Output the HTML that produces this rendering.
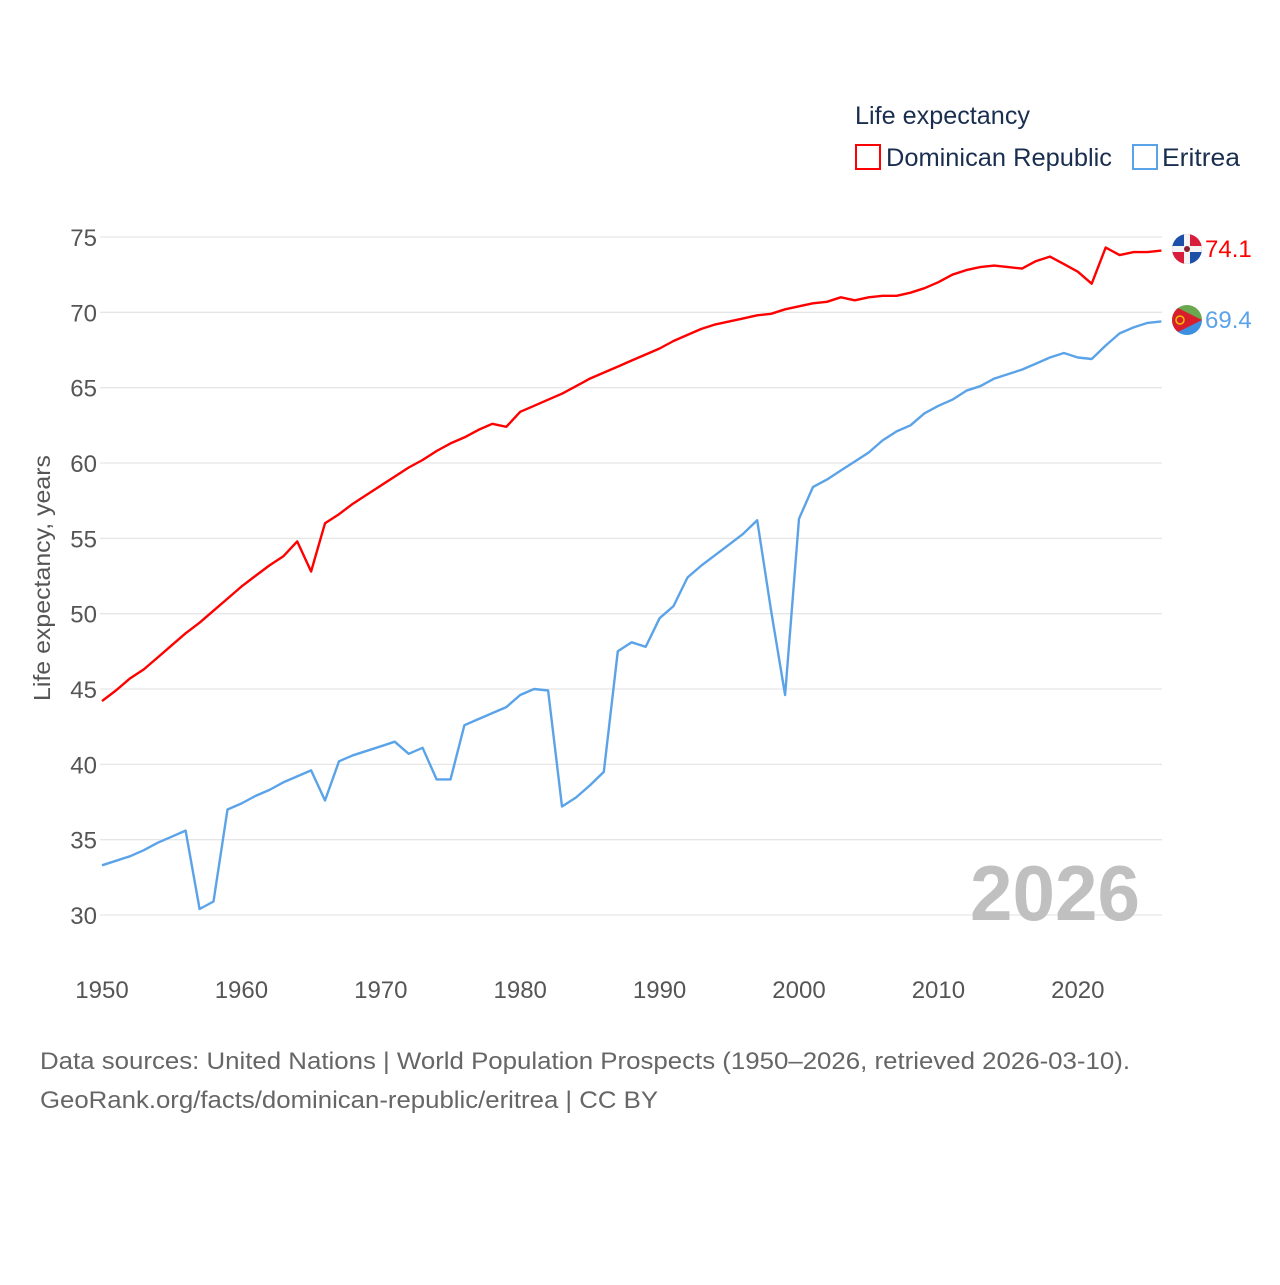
<!DOCTYPE html>
<html><head><meta charset="utf-8"><style>
body{margin:0;background:#fff;}
svg text{font-family:"Liberation Sans",sans-serif;}
</style></head><body>
<svg id="chart" width="1280" height="1280" viewBox="0 0 1280 1280" xmlns="http://www.w3.org/2000/svg">
<rect width="1280" height="1280" fill="#fff"/>
<g id="grid"></g>
<g id="yticks"></g>
<g id="xticks"></g>
<text x="0" y="0" transform="translate(50,578) rotate(-90)" text-anchor="middle" font-size="23" fill="#555" textLength="246" lengthAdjust="spacingAndGlyphs">Life expectancy, years</text>
<text x="1140" y="920" text-anchor="end" font-size="78" font-weight="bold" fill="#c0c0c0" textLength="170" lengthAdjust="spacingAndGlyphs">2026</text>
<g id="series"></g>
<g>
<text x="855" y="124" font-size="25" fill="#1a2e50" textLength="175" lengthAdjust="spacingAndGlyphs">Life expectancy</text>
<g>
<rect x="856" y="145" width="24" height="24" fill="none" stroke="#ff0000" stroke-width="2"/>
<text x="886" y="166" font-size="25" fill="#1a2e50" textLength="226" lengthAdjust="spacingAndGlyphs">Dominican Republic</text>
</g>
<g>
<rect x="1133" y="145" width="24" height="24" fill="none" stroke="#5ba3e8" stroke-width="2"/>
<text x="1162" y="166" font-size="25" fill="#1a2e50" textLength="78" lengthAdjust="spacingAndGlyphs">Eritrea</text>
</g>
</g>
<g>
<clipPath id="c1"><circle cx="1187" cy="249" r="15"/></clipPath>
<g clip-path="url(#c1)">
<rect x="1172" y="234" width="15" height="15" fill="#1d4fa8"/><rect x="1187" y="234" width="15" height="15" fill="#d81e3c"/>
<rect x="1172" y="249" width="15" height="15" fill="#d81e3c"/><rect x="1187" y="249" width="15" height="15" fill="#1d4fa8"/>
<rect x="1172" y="246" width="30" height="6" fill="#f4f4f4"/><rect x="1184" y="234" width="6" height="30" fill="#f4f4f4"/>
<circle cx="1187" cy="249" r="3" fill="#8a2030"/></g></g>
<text x="1205" y="257" font-size="24" fill="#ff0000">74.1</text>
<g>
<clipPath id="c2"><circle cx="1187" cy="320" r="15"/></clipPath>
<g clip-path="url(#c2)">
<rect x="1172" y="305" width="30" height="15" fill="#6aa84f"/><rect x="1172" y="320" width="30" height="15" fill="#3d8fe0"/>
<polygon points="1172,305 1202,320 1172,335" fill="#d81e2c"/>
<circle cx="1180" cy="320" r="4" fill="none" stroke="#f5c000" stroke-width="1.5"/></g></g>
<text x="1205" y="328" font-size="24" fill="#5ba3e8">69.4</text>
<text x="40" y="1069" font-size="24" fill="#666" textLength="1090" lengthAdjust="spacingAndGlyphs">Data sources: United Nations | World Population Prospects (1950–2026, retrieved 2026-03-10).</text>
<text x="40" y="1108" font-size="24" fill="#666" textLength="618" lengthAdjust="spacingAndGlyphs">GeoRank.org/facts/dominican-republic/eritrea | CC BY</text>
</svg>
<script>
const years = [];
for (let y = 1950; y <= 2026; y++) years.push(y);
const domRep = [44.2,44.9,45.7,46.3,47.1,47.9,48.7,49.4,50.2,51.0,51.8,52.5,53.2,53.8,54.8,52.8,56.0,56.6,57.3,57.9,58.5,59.1,59.7,60.2,60.8,61.3,61.7,62.2,62.6,62.4,63.4,63.8,64.2,64.6,65.1,65.6,66.0,66.4,66.8,67.2,67.6,68.1,68.5,68.9,69.2,69.4,69.6,69.8,69.9,70.2,70.4,70.6,70.7,71.0,70.8,71.0,71.1,71.1,71.3,71.6,72.0,72.5,72.8,73.0,73.1,73.0,72.9,73.4,73.7,73.2,72.7,71.9,74.3,73.8,74.0,74.0,74.1];
const eritrea = [33.3,33.6,33.9,34.3,34.8,35.2,35.6,30.4,30.9,37.0,37.4,37.9,38.3,38.8,39.2,39.6,37.6,40.2,40.6,40.9,41.2,41.5,40.7,41.1,39.0,39.0,42.6,43.0,43.4,43.8,44.6,45.0,44.9,37.2,37.8,38.6,39.5,47.5,48.1,47.8,49.7,50.5,52.4,53.2,53.9,54.6,55.3,56.2,50.2,44.6,56.3,58.4,58.9,59.5,60.1,60.7,61.5,62.1,62.5,63.3,63.8,64.2,64.8,65.1,65.6,65.9,66.2,66.6,67.0,67.3,67.0,66.9,67.8,68.6,69.0,69.3,69.4];
const yTicks = [30,35,40,45,50,55,60,65,70,75];
const xTicks = [1950,1960,1970,1980,1990,2000,2010,2020];

const NS = "http://www.w3.org/2000/svg";
const xS = v => 102 + (v - 1950) * 13.94;
const yS = v => 237 + (75 - v) * 15.067;
const mk = (tag, attrs, parent) => { const e = document.createElementNS(NS, tag); for (const k in attrs) e.setAttribute(k, attrs[k]); parent.appendChild(e); return e; };

const grid = document.getElementById('grid'), yt = document.getElementById('yticks'), xt = document.getElementById('xticks');
yTicks.forEach(t => {
  const l = mk('line', {x1: 100, x2: 1162, y1: yS(t), y2: yS(t), stroke: '#e6e6e6', 'stroke-width': 1.3}, grid);
  
  
  const tx = mk('text', {x: 97, y: yS(t) + 9, 'text-anchor': 'end', 'font-size': 24, fill: '#555'}, yt);
  tx.textContent = t;
  
  
});
xTicks.forEach(t => {
  const tx = mk('text', {x: xS(t), y: 998, 'text-anchor': 'middle', 'font-size': 24, fill: '#555'}, xt);
  tx.textContent = t;
  
  
});
const series = document.getElementById('series');
[[domRep, '#ff0000', 'line-dominican-republic'], [eritrea, '#5ba3e8', 'line-eritrea']].forEach(([vals, col, name]) => {
  const d = vals.map((v, i) => (i ? 'L' : 'M') + xS(years[i]).toFixed(1) + ',' + yS(v).toFixed(1)).join('');
  const p = mk('path', {d: d, fill: 'none', stroke: col, 'stroke-width': 2.4, 'stroke-linejoin': 'round'}, series);
  
  
});
</script>
</body></html>
